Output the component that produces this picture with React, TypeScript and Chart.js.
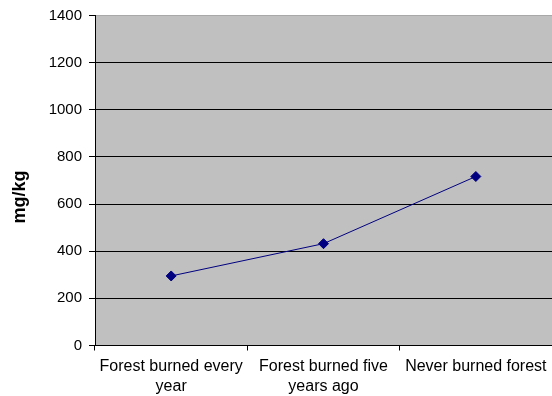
import React, { useEffect, useRef } from "react";
import { Chart, registerables } from "chart.js";

Chart.register(...registerables);

// Category labels (multi-line where the axis wraps them)
const categories: (string | string[])[] = [
  ["Forest burned every", "year"],
  ["Forest burned five", "years ago"],
  "Never burned forest",
];

// Concentration values, mg/kg
const concentration: number[] = [295, 432, 717];

const yMin = 0;
const yMax = 1400;
const yStep = 200;
const yTitle = "mg/kg";

const FONT = '"Liberation Sans", Arial, sans-serif';
const NAVY = "#000080";

const noPadding = () => ({ left: 0, right: 0, top: 0, bottom: 0 });

// Grey plot-area fill
const plotBackground = {
  id: "plotBackground",
  beforeDraw(chart: any) {
    const { ctx, chartArea } = chart;
    ctx.save();
    ctx.fillStyle = "#C0C0C0";
    ctx.fillRect(
      chartArea.left,
      chartArea.top,
      chartArea.right - chartArea.left,
      chartArea.bottom - chartArea.top
    );
    ctx.restore();
  },
};

// Vertical axis title, centred on the full canvas height
const sideTitle = {
  id: "sideTitle",
  afterDraw(chart: any) {
    const { ctx, height } = chart;
    ctx.save();
    ctx.translate(20.5, height / 2 - 1);
    ctx.rotate(-Math.PI / 2);
    ctx.font = `bold 18px ${FONT}`;
    ctx.fillStyle = "#000";
    ctx.textAlign = "center";
    ctx.textBaseline = "middle";
    ctx.fillText(yTitle, 0, 0);
    ctx.restore();
  },
};

export default function App() {
  const canvasRef = useRef<HTMLCanvasElement | null>(null);

  useEffect(() => {
    if (!canvasRef.current) return;
    const chart = new Chart(canvasRef.current, {
      type: "line",
      data: {
        labels: categories,
        datasets: [
          {
            data: concentration,
            borderColor: NAVY,
            backgroundColor: NAVY,
            borderWidth: 1,
            pointStyle: "rectRot",
            pointRadius: 5,
            pointHoverRadius: 5,
            pointBorderWidth: 1,
            pointBackgroundColor: NAVY,
            pointBorderColor: NAVY,
            tension: 0,
            clip: false,
          },
        ],
      },
      options: {
        responsive: false,
        animation: false,
        layout: {
          autoPadding: false,
          padding: { top: 15.5, left: 0, right: 0, bottom: 0 },
        },
        plugins: {
          legend: { display: false },
          tooltip: { enabled: false },
        },
        scales: {
          x: {
            offset: true,
            afterFit(scale: any) {
              scale.height = 50.5;
              scale.paddingLeft = 0;
              scale.paddingRight = 0;
              scale.getPadding = noPadding;
            },
            grid: {
              offset: true,
              drawOnChartArea: false,
              drawTicks: true,
              tickLength: 5,
              color: "#000",
            },
            border: { display: true, color: "#000", width: 1 },
            ticks: {
              color: "#000",
              padding: 6.5,
              maxRotation: 0,
              autoSkip: false,
              font: { family: FONT, size: 16, lineHeight: 19.5 / 16 },
            },
          },
          y: {
            min: yMin,
            max: yMax,
            afterFit(scale: any) {
              scale.width = 95;
              scale.getPadding = noPadding;
            },
            grid: {
              color: (c: any) =>
                c.tick && c.tick.value === yMax ? "#a8a8a8" : "#000",
              tickColor: "#000",
              drawTicks: true,
              tickLength: 6,
              lineWidth: 1,
            },
            border: { display: true, color: "#000", width: 1 },
            ticks: {
              stepSize: yStep,
              color: "#000",
              padding: 7,
              font: { family: FONT, size: 15 },
              callback: (v: any) => String(v),
            },
          },
        },
      },
      plugins: [plotBackground, sideTitle],
    });
    return () => chart.destroy();
  }, []);

  return (
    <div style={{ position: "fixed", left: 0, top: 0, width: 552, height: 396, background: "#fff" }}>
      <canvas ref={canvasRef} width={552} height={396} style={{ display: "block" }} />
    </div>
  );
}
